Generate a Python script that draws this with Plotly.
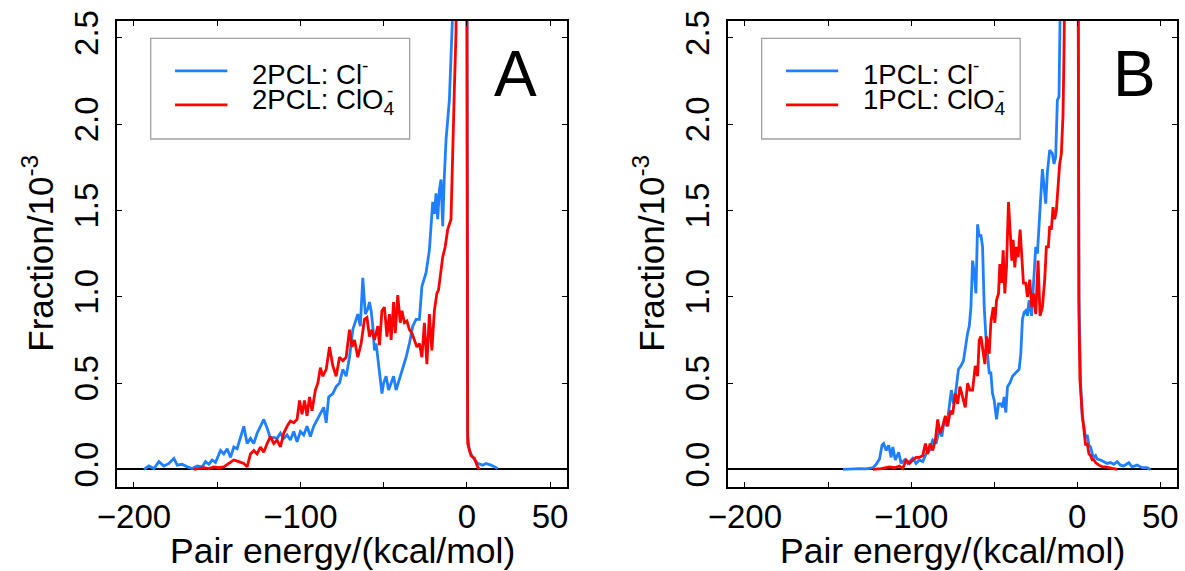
import plotly.graph_objects as go

# ---------------- data ----------------
# Panel A: 2PCL, Cl-
a_cl_x = [-194, -191, -188, -185, -182, -179, -176, -174, -171, -168, -165, -162, -159, -157, -155,
          -153, -151, -148, -146, -144, -142, -140, -138, -136, -134, -132, -130, -128, -126, -124,
          -122, -120, -118, -116, -114, -112, -110, -108, -106, -104, -102, -100, -98, -96, -94,
          -92, -90, -88, -86, -84.5, -83, -80.5, -78.5, -76.5, -74.5, -72.5, -70.5, -68.5, -67,
          -65.5, -64, -62.5, -61, -59.5, -58.5, -57.5, -56.5, -55.5, -54.5, -53.5, -52.5, -51,
          -50, -48.5, -47, -45.5, -44, -42.5, -40.5, -38.5, -36.5, -34.5, -32.5, -30.5, -28.5,
          -27, -24.5, -22.5, -21.5, -20.5, -19.5, -18.5, -17.5, -16.5, -15.5, -14.5, -13.5,
          -12.5, -10.5, -9.5, -8.5, -6.5, -4.5, -2.5, -1, 0.5, 1.5, 3.5, 6.5, 9.5, 11.5, 14.5,
          16.5, 18.5]
a_cl_y = [0.0, 0.02, 0.005, 0.045, 0.02, 0.035, 0.064, 0.025, 0.03, 0.015, 0.005, 0.02, 0.015, 0.045, 0.03,
          0.055, 0.04, 0.11, 0.09, 0.12, 0.07, 0.13, 0.12, 0.19, 0.25, 0.15, 0.18, 0.15, 0.21, 0.25,
          0.29, 0.24, 0.18, 0.185, 0.18, 0.21, 0.18, 0.20, 0.17, 0.22, 0.16, 0.22, 0.20, 0.25, 0.19,
          0.25, 0.29, 0.32, 0.36, 0.27, 0.42, 0.44, 0.48, 0.50, 0.58, 0.54, 0.65, 0.81, 0.85,
          0.90, 0.83, 1.11, 0.90, 0.93, 0.97, 0.92, 0.83, 0.69, 0.73, 0.65, 0.56, 0.44,
          0.50, 0.54, 0.46, 0.50, 0.54, 0.46, 0.52, 0.58, 0.65, 0.73, 0.83, 0.87, 0.87,
          1.06, 1.14, 1.27, 1.41, 1.55, 1.48, 1.60, 1.45, 1.62, 1.68, 1.41, 1.70,
          1.91, 2.14, 2.43, 2.65, 4.2, 6.0, 7.8, 9.0, 0.20, 0.11, 0.07, 0.035, 0.025, 0.035, 0.025,
          0.015, 0.005]

# Panel A: 2PCL, ClO4-
a_clo4_x = [-164, -161, -158, -155, -152, -149, -146, -143, -140, -137, -134, -132, -130, -128, -126,
            -124, -122, -120, -118, -116, -114, -112, -110, -108, -106, -104, -102, -100.5, -99,
            -97.5, -96, -94.5, -93, -91, -89.5, -88, -86.5, -84.5, -82.5, -80.5, -78.5, -76.5,
            -74.5, -72.5, -70.5, -69, -67.5, -65.5, -63.5, -61.5, -60, -58.5, -57, -55.5, -53.5,
            -52.5, -51, -49.5, -48, -46.5, -45.5, -44, -43, -41.5, -40, -39, -37.5, -36, -34.5,
            -33, -31.5, -30, -28.5, -27, -25.5, -24, -22.5, -21, -19.5, -18, -17, -15.5, -14.5,
            -13, -11.5, -9.5, -8.5, -7.5, -6.5, -5, -3, -1, 0.5, 2.5, 4.5, 6.5, 7.5]
a_clo4_y = [0.0, 0.005, 0.01, 0.005, 0.015, 0.01, 0.015, 0.035, 0.055, 0.045, 0.035, 0.015, 0.09, 0.11, 0.09,
            0.13, 0.10, 0.15, 0.19, 0.15, 0.17, 0.13, 0.21, 0.25, 0.28, 0.27, 0.29, 0.40, 0.32,
            0.40, 0.31, 0.42, 0.34, 0.46, 0.50, 0.59, 0.54, 0.58, 0.71, 0.60, 0.54, 0.65,
            0.63, 0.65, 0.81, 0.71, 0.75, 0.65, 0.73, 0.87, 0.88, 0.77, 0.81, 0.75, 0.83,
            0.72, 0.92, 0.94, 0.77, 0.90, 0.75, 0.97, 0.79, 1.01, 0.85, 0.92, 0.85, 0.86, 0.81,
            0.79, 0.75, 0.71, 0.73, 0.65, 0.85, 0.61, 0.90, 0.69, 0.92, 1.02, 1.04, 1.16, 1.23,
            1.29, 1.39, 1.45, 1.76, 2.20, 2.53, 4.0, 6.5, 9.0, 0.15, 0.08, 0.065, 0.015, 0.0]

# Panel B: 1PCL, Cl-
b_cl_x = [-141, -136, -131, -127, -123, -121, -119, -117.5, -116.5, -115, -113.5, -112, -111, -109.5,
          -107.5, -106, -104, -102, -99, -97, -95, -93, -91, -89, -87, -85, -83, -81.5, -80, -78.5,
          -77, -75.8, -74.5, -73, -71.5, -70, -68.5, -67.4, -66, -65, -64, -63, -62, -61, -60, -59,
          -58, -57, -56, -55, -54, -53, -52, -51, -50, -48.6, -47.4, -46, -45, -44, -43, -42,
          -40.6, -39, -37, -35, -34, -33, -32, -31, -30, -29, -27.5, -26, -25, -24, -23, -22, -21,
          -20, -19, -18, -16.6, -15, -14, -13, -12, -11, -10, -8.5, -6, -3, -1, 1, 2, 3, 4, 5, 6,
          7, 8, 9, 10, 11, 12, 14, 16, 18, 20, 22, 24, 26, 28, 31, 33, 36, 39, 42, 44]
b_cl_y = [0.0, 0.003, 0.005, 0.003, 0.01, 0.03, 0.06, 0.14, 0.15, 0.11, 0.14, 0.07, 0.13, 0.055,
          0.10, 0.035, 0.055, 0.035, 0.065, 0.035, 0.055, 0.045, 0.09, 0.11, 0.17, 0.15, 0.23, 0.19, 0.29, 0.25,
          0.36, 0.46, 0.38, 0.46, 0.58, 0.60, 0.63, 0.71, 0.79, 0.83, 0.94, 1.21, 1.14, 1.02, 1.42, 1.35,
          1.36, 1.29, 0.94, 0.77, 0.67, 0.56, 0.56, 0.44, 0.40, 0.29, 0.38, 0.38, 0.36, 0.42, 0.33, 0.48,
          0.50, 0.54, 0.56, 0.58, 0.67, 0.87, 0.91, 0.92, 0.89, 0.98, 0.89, 1.14, 1.29, 1.25, 1.41, 1.52, 1.74,
          1.64, 1.54, 1.72, 1.85, 1.83, 1.77, 1.81, 2.14, 2.16, 2.53, 3.5, 5.5, 8.0, 9.5, 1.0, 0.5, 0.30, 0.25, 0.18, 0.20,
          0.14, 0.13, 0.09, 0.07, 0.08, 0.06, 0.055, 0.045, 0.035, 0.04, 0.03, 0.045, 0.025, 0.02, 0.04, 0.015, 0.025, 0.01, 0.01, 0.0]

# Panel B: 1PCL, ClO4-
b_clo4_x = [-123, -118, -113, -110, -107, -105, -103, -101, -99, -97, -95, -93, -91.4, -90, -88.6, -87,
            -85.4, -84, -82.6, -81, -79.4, -78, -76.4, -75, -73.4, -72, -70.6, -69, -67.4, -66, -64.6,
            -63, -61.4, -60, -59, -58, -56.6, -55.6, -54.6, -53, -52, -50.6, -49.6, -48.6, -47.4,
            -46.6, -45.6, -44.6, -43.6, -42.6, -41.4, -40.4, -39.4, -38.6, -37.6, -36.6, -35.6,
            -34.4, -33.4, -32.4, -31, -30, -28.6, -27.4, -26.4, -25, -23.6, -22.4, -21, -19.6,
            -18.6, -17.4, -16.6, -15.6, -14.6, -13.6, -12.6, -11.6, -10.6, -9.6, -8.6, -8, -6.5,
            -4, -2, -1, 1, 1.6, 3, 4, 5, 6, 7, 8, 9, 10, 11, 13, 15, 17, 19, 21, 24]
b_clo4_y = [0.0, 0.005, 0.015, 0.01, 0.02, 0.005, 0.055, 0.035, 0.055, 0.07, 0.07, 0.08, 0.15, 0.09, 0.15, 0.11,
            0.17, 0.29, 0.21, 0.25, 0.31, 0.25, 0.34, 0.32, 0.44, 0.38, 0.48, 0.42, 0.36, 0.50, 0.46,
            0.46, 0.60, 0.54, 0.75, 0.77, 0.67, 0.61, 0.77, 0.67, 0.85, 0.94, 0.85, 0.98, 1.02,
            1.19, 1.08, 1.27, 1.02, 1.17, 1.55, 1.35, 1.21, 1.33, 1.17, 1.29, 1.23,
            1.39, 1.21, 1.08, 1.08, 1.00, 1.10, 0.94, 1.02, 0.90, 1.21, 0.89, 0.94, 1.10,
            1.29, 1.29, 1.41, 1.39, 1.52, 1.45, 1.50, 1.64, 1.77, 1.83, 2.05, 2.41, 3.8,
            6.0, 8.0, 9.0, 0.9, 0.52, 0.32, 0.23, 0.14, 0.15, 0.09, 0.08, 0.055, 0.055, 0.04, 0.025, 0.015, 0.015, 0.01, 0.005, 0.0]

x_tick_vals = [-200, -150, -100, -50, 0, 50]
x_tick_text = ["\u2212200", " ", "\u2212100", " ", "0", "50"]
y_tick_vals = [0.0, 0.5, 1.0, 1.5, 2.0, 2.5]
y_tick_text = ["0.0", "0.5", "1.0", "1.5", "2.0", "2.5"]

panel_tags = ["A", "B"]
panel_names = ["2PCL", "1PCL"]

# ---------------- styling ----------------
BLUE = "#1e80ff"
RED = "#ff0000"
FONT = "Liberation Sans, Arial, Helvetica, sans-serif"
W, H = 1185, 571

fig = go.Figure()

series = [
    ("x", "y", a_cl_x, a_cl_y, a_clo4_x, a_clo4_y),
    ("x2", "y2", b_cl_x, b_cl_y, b_clo4_x, b_clo4_y),
]
for xa, ya, cx, cy, rx, ry in series:
    fig.add_trace(go.Scatter(x=cx, y=cy, mode="lines", line=dict(color=BLUE, width=2.8),
                             xaxis=xa, yaxis=ya, showlegend=False, hoverinfo="skip"))
    fig.add_trace(go.Scatter(x=rx, y=ry, mode="lines", line=dict(color=RED, width=2.8),
                             xaxis=xa, yaxis=ya, showlegend=False, hoverinfo="skip"))

xdom = [[117.3 / W, 566.7 / W], [728.3 / W, 1177.0 / W]]
ydom = [1 - 486.7 / H, 1 - 20.7 / H]

xcommon = dict(range=[-210, 60], tickmode="array", tickvals=x_tick_vals, ticktext=x_tick_text,
               ticks="inside", ticklen=5, tickwidth=1, tickcolor="black", automargin=False,
               showline=True, linecolor="black", linewidth=1.6, mirror="allticks",
               showgrid=False, zeroline=False,
               tickfont=dict(family=FONT, size=33, color="black"))
ycommon = dict(range=[-0.10, 2.60], tickmode="array", tickvals=y_tick_vals, ticktext=y_tick_text,
               tickangle=-90, ticks="inside", ticklen=5, tickwidth=1, tickcolor="black", automargin=False,
               ticklabelstandoff=4,
               showline=True, linecolor="black", linewidth=1.6, mirror="allticks",
               showgrid=False, zeroline=True, zerolinecolor="black", zerolinewidth=2.2,
               tickfont=dict(family=FONT, size=33, color="black"))

fig.update_layout(
    template="none",
    width=W, height=H,
    margin=dict(l=0, r=0, t=0, b=0, pad=0, autoexpand=False),
    paper_bgcolor="white", plot_bgcolor="white",
    xaxis=dict(domain=xdom[0], anchor="y", **xcommon),
    yaxis=dict(domain=ydom, anchor="x", **ycommon),
    xaxis2=dict(domain=xdom[1], anchor="y2", **xcommon),
    yaxis2=dict(domain=ydom, anchor="x2", **ycommon),
    font=dict(family=FONT, color="black"),
)

shapes = []
annotations = []
for i, (xa, ya) in enumerate([("x", "y"), ("x2", "y2")]):
    xr, yr = xa + " domain", ya + " domain"
    # legend box
    shapes.append(dict(type="rect", xref=xr, yref=yr, x0=0.0743, x1=0.6505, y0=0.7461, y1=0.9622,
                       line=dict(color="#a0a0a0", width=1.3), fillcolor="white", layer="above"))
    shapes.append(dict(type="line", xref=xr, yref=yr, x0=0.1285, x1=0.2450, y0=0.8923, y1=0.8923,
                       line=dict(color=BLUE, width=2.8), layer="above"))
    shapes.append(dict(type="line", xref=xr, yref=yr, x0=0.1285, x1=0.2450, y0=0.8193, y1=0.8193,
                       line=dict(color=RED, width=2.8), layer="above"))
    annotations.append(dict(xref=xr, yref=yr, x=0.296, y=0.889, xanchor="left", yanchor="middle",
                            text=panel_names[i] + ": Cl<sup>-</sup>", showarrow=False,
                            font=dict(family=FONT, size=27.5, color="black")))
    annotations.append(dict(xref=xr, yref=yr, x=0.296, y=0.826, xanchor="left", yanchor="middle",
                            text=panel_names[i] + ": ClO<sub>4</sub>", showarrow=False,
                            font=dict(family=FONT, size=27.5, color="black")))
    annotations.append(dict(xref=xr, yref=yr, x=0.607, y=0.850, xanchor="center", yanchor="middle",
                            text="-", showarrow=False,
                            font=dict(family=FONT, size=19, color="black")))
    # panel tag
    annotations.append(dict(xref=xr, yref=yr, x=0.887 if i == 0 else 0.906, y=0.885,
                            xanchor="center", yanchor="middle", text=panel_tags[i], showarrow=False,
                            font=dict(family=FONT, size=64, color="black")))
    # axis titles
    annotations.append(dict(xref=xr, yref="paper", x=0.5, y=1 - 551 / H, xanchor="center",
                            yanchor="middle", text="Pair energy/(kcal/mol)", showarrow=False,
                            font=dict(family=FONT, size=35.5, color="black")))
    annotations.append(dict(xref="paper", yref=yr, x=(38 + (0 if i == 0 else 611)) / W, y=0.5,
                            xanchor="center", yanchor="middle", textangle=-90,
                            text="Fraction/10<sup>-3</sup>", showarrow=False,
                            font=dict(family=FONT, size=35, color="black")))

fig.update_layout(shapes=shapes, annotations=annotations)
fig.write_html("out.html",
               config={"displayModeBar": False},
               post_script="document.body.style.margin='0';document.body.style.padding='0';"
                           "document.documentElement.style.overflow='hidden';")
